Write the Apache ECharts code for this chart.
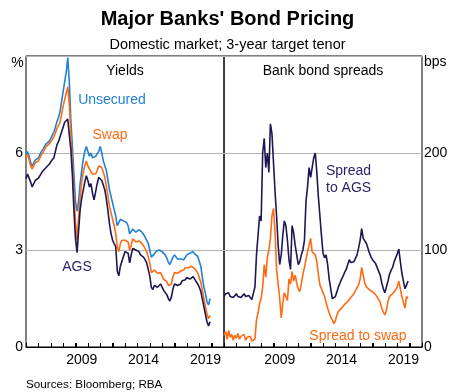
<!DOCTYPE html>
<html><head><meta charset="utf-8">
<script src="https://cdn.jsdelivr.net/npm/echarts@6/dist/echarts.min.js"></script>
<style>html,body{margin:0;padding:0;background:#fff}#c{width:455px;height:392px}</style>
</head><body><div id="c"></div>
<script>
// Dates as decimal years (every 1.5 months)
const dates = [
2005.000,2005.125,2005.250,2005.375,2005.500,2005.625,2005.750,2005.875,
2006.000,2006.125,2006.250,2006.375,2006.500,2006.625,2006.750,2006.875,
2007.000,2007.125,2007.250,2007.375,2007.500,2007.625,2007.750,2007.875,
2008.000,2008.125,2008.250,2008.375,2008.500,2008.625,2008.750,2008.875,
2009.000,2009.125,2009.250,2009.375,2009.500,2009.625,2009.750,2009.875,
2010.000,2010.125,2010.250,2010.375,2010.500,2010.625,2010.750,2010.875,
2011.000,2011.125,2011.250,2011.375,2011.500,2011.625,2011.750,2011.875,
2012.000,2012.125,2012.250,2012.375,2012.500,2012.625,2012.750,2012.875,
2013.000,2013.125,2013.250,2013.375,2013.500,2013.625,2013.750,2013.875,
2014.000,2014.125,2014.250,2014.375,2014.500,2014.625,2014.750,2014.875,
2015.000,2015.125,2015.250,2015.375,2015.500,2015.625,2015.750,2015.875,
2016.000,2016.125,2016.250,2016.375,2016.500,2016.625,2016.750,2016.875,
2017.000,2017.125,2017.250,2017.375,2017.500,2017.625,2017.750,2017.875,
2018.000,2018.125,2018.250,2018.375,2018.500,2018.625,2018.750,2018.875,
2019.000,2019.125,2019.250,2019.375,2019.500,2019.625,2019.750,2019.875];

// Yields (%)
const ags = [
5.20,5.35,5.30,5.10,4.95,5.00,5.15,5.20,
5.22,5.30,5.38,5.45,5.50,5.55,5.58,5.65,
5.73,5.78,5.85,6.05,6.25,6.35,6.50,6.65,
6.80,6.95,6.90,7.05,6.55,6.10,5.30,4.20,
3.35,2.92,3.60,4.25,4.60,4.85,5.10,5.30,
5.15,4.95,5.05,4.75,4.55,4.80,5.05,5.25,
5.30,5.15,5.00,4.85,4.55,4.20,3.80,3.50,
3.30,3.35,3.10,2.35,2.20,2.50,2.65,2.80,
2.95,3.00,2.90,2.60,2.85,3.05,3.10,3.00,
3.00,2.95,2.85,2.85,2.78,2.70,2.60,2.40,
2.20,1.85,1.78,1.90,1.90,1.85,1.85,1.95,
1.85,1.75,1.72,1.62,1.50,1.42,1.55,1.80,
1.95,1.95,1.90,1.85,1.95,2.05,2.00,2.08,
2.15,2.12,2.10,2.15,2.18,2.10,2.05,1.95,
1.85,1.72,1.48,1.25,1.00,0.78,0.65,0.78];
const swap = [
5.85,5.95,5.80,5.60,5.50,5.55,5.70,5.72,
5.75,5.85,5.95,6.02,6.08,6.20,6.22,6.28,
6.35,6.42,6.50,6.62,6.76,6.85,6.95,7.20,
7.45,7.65,7.85,8.05,7.50,6.60,5.60,4.70,
3.85,3.30,4.00,4.65,5.10,5.40,5.60,5.75,
5.60,5.50,5.55,5.35,5.30,5.35,5.45,5.60,
5.65,5.55,5.40,5.25,4.95,4.65,4.35,4.15,
3.95,3.75,3.50,3.10,2.95,3.20,3.30,3.35,
3.30,3.35,3.25,3.00,3.15,3.35,3.35,3.25,
3.25,3.28,3.25,3.20,3.15,3.05,2.95,2.80,
2.60,2.30,2.28,2.38,2.35,2.28,2.25,2.30,
2.20,2.10,2.10,2.02,1.90,1.85,1.95,2.18,
2.30,2.32,2.28,2.25,2.35,2.40,2.38,2.45,
2.48,2.45,2.48,2.50,2.50,2.42,2.40,2.30,
2.15,2.00,1.75,1.50,1.25,1.00,0.88,0.98];
const unsecured = [
5.95,6.05,5.90,5.70,5.60,5.65,5.78,5.82,
5.85,5.95,6.05,6.12,6.18,6.28,6.30,6.36,
6.45,6.55,6.65,6.80,6.97,7.10,7.28,7.60,
7.90,8.20,8.50,8.95,8.20,7.00,6.20,5.30,
4.50,4.20,4.50,5.05,5.45,5.80,6.05,6.20,
6.05,5.90,6.00,5.85,5.90,5.90,5.95,6.05,
6.20,6.00,5.75,5.60,5.45,5.15,4.85,4.65,
4.45,4.25,4.05,3.75,3.80,3.95,4.00,3.90,
3.85,3.85,3.75,3.50,3.55,3.65,3.65,3.55,
3.60,3.62,3.60,3.55,3.48,3.40,3.35,3.20,
3.00,2.78,2.78,2.88,2.95,2.95,3.00,3.05,
2.95,2.90,2.85,2.75,2.62,2.55,2.60,2.78,
2.85,2.80,2.72,2.68,2.72,2.78,2.70,2.75,
2.85,2.88,2.90,2.92,2.95,2.88,2.85,2.80,
2.65,2.50,2.15,1.85,1.65,1.40,1.30,1.50];

// Spreads (bps)
const spreadAgs = [
52,55,53,56,52,54,51,53,
55,52,54,51,53,55,52,50,
53,51,49,50,62,95,115,135,
130,200,215,185,200,180,230,220,
190,160,135,105,85,95,115,130,
125,110,90,80,125,118,105,95,
85,88,95,100,110,150,165,185,
175,185,195,200,180,155,135,115,
97,92,95,85,70,60,50,48,
52,57,62,66,70,73,77,80,
85,90,87,85,88,90,95,102,
110,122,112,110,107,102,97,93,
90,89,86,84,78,74,66,60,
56,58,68,75,79,82,88,92,
96,101,88,76,68,60,64,68];
const spreadSwap = [
12,16,8,17,10,13,7,12,
9,14,8,11,9,13,7,10,
8,11,6,5,8,28,35,45,
50,62,85,72,92,100,112,135,
143,118,80,65,50,30,45,56,
55,48,70,65,78,68,74,66,
60,57,65,75,82,90,98,100,
112,98,100,95,88,75,64,60,
58,52,46,40,35,31,28,24,
27,33,37,39,40,42,44,45,
47,49,51,53,55,58,60,64,
70,82,74,66,62,60,59,58,
57,56,54,52,49,46,40,36,
33,38,47,52,54,55,57,59,
62,68,60,52,46,40,52,50];

const tickLabels = ['2009','2014','2019'];
const yearTicks = [2006,2007,2008,2009,2010,2011,2012,2013,2014,2015,2016,2017,2018,2019,2020];
const yTicksLeft = ['0','3','6'];
const yTicksRight = ['0','100','200'];

const C_NAVY = '#1c1852', C_ORANGE = '#ff6a13', C_BLUE = '#1f80d4';
const FONT = "'Liberation Sans', Arial, sans-serif";
const pair = (xs, ys) => xs.map((x, i) => [x, ys[i]]);

const chart = echarts.init(document.getElementById('c'), null, {renderer: 'canvas'});

function xAxisDef(gi) {
  return {
    type: 'value', gridIndex: gi, min: 2005, max: 2021, interval: 1,
    axisLine: {show: true, lineStyle: {color: '#000', width: 1}},
    axisTick: {show: true, inside: true, length: 4, lineStyle: {color: '#000', width: 1}},
    axisLabel: {
      fontFamily: FONT, fontSize: 14, color: '#000', margin: 6,
      padding: [0, 0, 0, 12.4],
      formatter: v => tickLabels.includes(String(v)) ? String(v) : ''
    },
    splitLine: {show: false}
  };
}

function tickSeries(xi) {
  return {
    type: 'custom', xAxisIndex: xi, yAxisIndex: xi, clip: false, silent: true, z: 5,
    data: yearTicks.map(y => [y, 0]),
    renderItem: (params, api) => {
      const p = api.coord([api.value(0), api.value(1)]);
      const x = Math.round(p[0]) + 0.5;
      return {type: 'line', shape: {x1: x, y1: p[1], x2: x, y2: p[1] - 4},
              style: {stroke: '#000', lineWidth: 1}};
    }
  };
}

const option = {
  animation: false,
  backgroundColor: '#fff',
  grid: [
    {left: 26, top: 56, width: 198, height: 291, show: true, borderColor: '#000', borderWidth: 1},
    {left: 224, top: 56, width: 198, height: 291, show: true, borderColor: '#000', borderWidth: 1}
  ],
  xAxis: [xAxisDef(0), xAxisDef(1)],
  yAxis: [
    {type: 'value', gridIndex: 0, min: 0, max: 9, interval: 3, position: 'left',
     axisLine: {show: false}, axisTick: {show: false},
     axisLabel: {fontFamily: FONT, fontSize: 14, color: '#000', margin: 3,
       formatter: v => yTicksLeft.includes(String(v)) ? String(v) : ''},
     splitLine: {show: true, lineStyle: {color: '#b4b4b4', width: 1}}},
    {type: 'value', gridIndex: 1, min: 0, max: 300, interval: 100, position: 'right',
     axisLine: {show: false}, axisTick: {show: false},
     axisLabel: {fontFamily: FONT, fontSize: 14, color: '#000', margin: 2,
       formatter: v => yTicksRight.includes(String(v)) ? String(v) : ''},
     splitLine: {show: true, lineStyle: {color: '#b4b4b4', width: 1}}}
  ],
  series: [
    {name: 'Unsecured', type: 'line', xAxisIndex: 0, yAxisIndex: 0, data: pair(dates, unsecured),
     showSymbol: false, lineStyle: {color: C_BLUE, width: 1.6}},
    {name: 'Swap', type: 'line', xAxisIndex: 0, yAxisIndex: 0, data: pair(dates, swap),
     showSymbol: false, lineStyle: {color: C_ORANGE, width: 1.6}},
    {name: 'AGS', type: 'line', xAxisIndex: 0, yAxisIndex: 0, data: pair(dates, ags),
     showSymbol: false, lineStyle: {color: C_NAVY, width: 1.6}},
    {name: 'Spread to AGS', type: 'line', xAxisIndex: 1, yAxisIndex: 1, data: pair(dates, spreadAgs),
     showSymbol: false, lineStyle: {color: C_NAVY, width: 1.6}},
    {name: 'Spread to swap', type: 'line', xAxisIndex: 1, yAxisIndex: 1, data: pair(dates, spreadSwap),
     showSymbol: false, lineStyle: {color: C_ORANGE, width: 1.6}},
    tickSeries(0), tickSeries(1)
  ],
  graphic: [
    {type: 'text', left: 'center', top: 9, style: {text: "Major Banks' Bond Pricing", font: "bold 20px " + FONT, fill: '#000'}},
    {type: 'text', left: 'center', top: 37, style: {text: 'Domestic market; 3-year target tenor', font: "14.5px " + FONT, fill: '#000'}},
    {type: 'text', x: 17.5, y: 63, style: {text: '%', font: "14px " + FONT, fill: '#000', align: 'center', verticalAlign: 'middle'}},
    {type: 'text', x: 424, y: 62, style: {text: 'bps', font: "14px " + FONT, fill: '#000', align: 'left', verticalAlign: 'middle'}},
    {type: 'text', x: 125, y: 71, style: {text: 'Yields', font: "14px " + FONT, fill: '#000', align: 'center', verticalAlign: 'middle'}},
    {type: 'text', x: 323, y: 71, style: {text: 'Bank bond spreads', font: "14px " + FONT, fill: '#000', align: 'center', verticalAlign: 'middle'}},
    {type: 'text', x: 112, y: 100, style: {text: 'Unsecured', font: "14px " + FONT, fill: C_BLUE, align: 'center', verticalAlign: 'middle'}},
    {type: 'text', x: 110, y: 135, style: {text: 'Swap', font: "14px " + FONT, fill: C_ORANGE, align: 'center', verticalAlign: 'middle'}},
    {type: 'text', x: 77, y: 267, style: {text: 'AGS', font: "14px " + FONT, fill: '#2a2568', align: 'center', verticalAlign: 'middle'}},
    {type: 'text', x: 326, y: 171.5, style: {text: 'Spread', font: "14px " + FONT, fill: '#2a2568', align: 'left', verticalAlign: 'middle'}},
    {type: 'text', x: 326, y: 188.5, style: {text: 'to AGS', font: "14px " + FONT, fill: '#2a2568', align: 'left', verticalAlign: 'middle'}},
    {type: 'text', x: 358, y: 336, style: {text: 'Spread to swap', font: "14px " + FONT, fill: C_ORANGE, align: 'center', verticalAlign: 'middle'}},
    {type: 'text', x: 26, y: 385, style: {text: 'Sources: Bloomberg; RBA', font: "11.7px " + FONT, fill: '#000', align: 'left', verticalAlign: 'middle'}}
  ]
};
chart.setOption(option);
</script></body></html>
